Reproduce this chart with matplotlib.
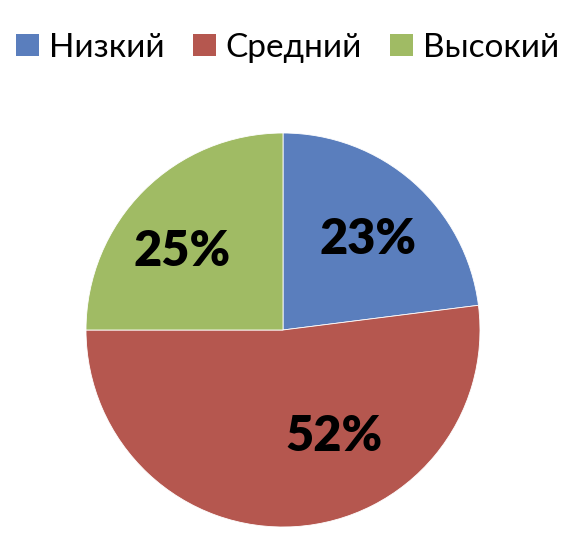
import matplotlib
matplotlib.use("Agg")
import matplotlib.pyplot as plt
from matplotlib.patches import Patch

categories = ["Низкий", "Средний", "Высокий"]
values = [23, 52, 25]
colors = ["#5A7EBD", "#B5574F", "#A0BB64"]
label_pos = [(0.43, 0.46), (0.26, -0.54), (-0.51, 0.40)]

plt.rcParams['font.family'] = ['Lato', 'DejaVu Sans']

fig = plt.figure(figsize=(5.7, 5.5), dpi=100)
ax = fig.add_axes([86/570, 23/550, 394/570, 394/550])
wedges, texts, autotexts = ax.pie(values, colors=colors, startangle=90, counterclock=False,
                                  autopct=lambda p: f"{p:.0f}%",
                                  wedgeprops=dict(edgecolor='white', linewidth=0.6),
                                  textprops=dict(fontsize=35, fontweight='heavy', color='black'))
for t, pos in zip(autotexts, label_pos):
    t.set_position(pos)
ax.set_xlim(-1, 1)
ax.set_ylim(-1, 1)
ax.set_aspect('equal')
ax.axis('off')

handles = [Patch(facecolor=c, edgecolor='none') for c in colors]
fig.legend(handles, categories, loc='upper center', bbox_to_anchor=(0.505, 0.983), ncol=3,
           frameon=False, fontsize=24, handlelength=0.68, handleheight=0.68,
           handletextpad=0.3, columnspacing=0.85, borderaxespad=0.3)

fig.savefig("out.png", dpi=100)
